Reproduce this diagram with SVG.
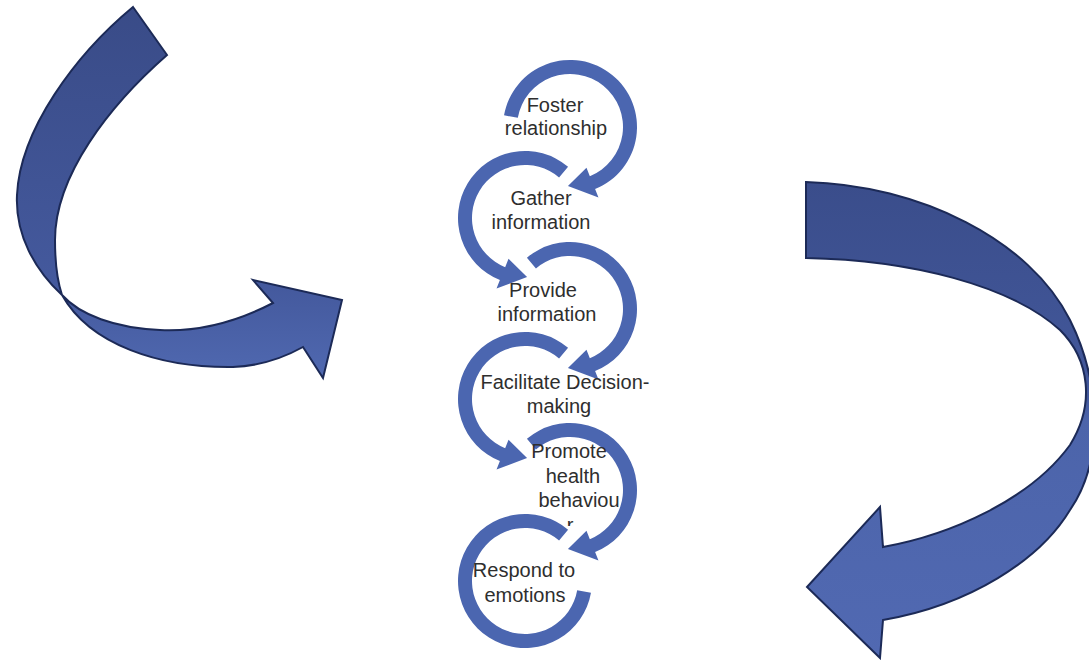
<svg xmlns="http://www.w3.org/2000/svg" width="1089" height="660" viewBox="0 0 1089 660">
<defs>
<style>
.ring{fill:#4b66b0}
.lbl{font-family:"Liberation Sans",Arial,sans-serif;font-size:20px;fill:#2e2e2e;text-anchor:middle}
.big{stroke:#1c2a57;stroke-width:2;stroke-linejoin:miter}
</style>
<linearGradient id="gl" gradientUnits="userSpaceOnUse" x1="0" y1="0" x2="0" y2="380">
<stop offset="0" stop-color="#394b87"/><stop offset="0.75" stop-color="#44599d"/><stop offset="1" stop-color="#5069b1"/>
</linearGradient>
<linearGradient id="gr" gradientUnits="userSpaceOnUse" x1="0" y1="180" x2="0" y2="660">
<stop offset="0" stop-color="#3a4d8b"/><stop offset="0.45" stop-color="#43589b"/><stop offset="0.5" stop-color="#4c64aa"/><stop offset="1" stop-color="#5169b2"/>
</linearGradient>
<path id="ringA1" d="M-65.98,-11.63 A67,67 0 1 1 25.10,62.12 L28.47,70.47 L-2.06,58.96 L16.48,40.80 L19.85,49.14 A53,53 0 1 0 -52.19,-9.20 Z"/>
<path id="ringA" d="M-43.07,-51.32 A67,67 0 1 1 25.10,62.12 L28.47,70.47 L-2.06,58.96 L16.48,40.80 L19.85,49.14 A53,53 0 1 0 -34.07,-40.60 Z"/>
<path id="ringB" d="M43.07,-51.32 A67,67 0 1 0 -25.10,62.12 L-28.47,70.47 L2.06,58.96 L-16.48,40.80 L-19.85,49.14 A53,53 0 1 1 34.07,-40.60 Z"/>
<path id="ringEnd" d="M43.07,-51.32 A67,67 0 1 0 65.98,11.63 L52.19,9.20 A53,53 0 1 1 34.07,-40.60 Z"/>
<clipPath id="clipR"><rect x="540" y="400" width="100" height="126"/></clipPath>
</defs>
<rect width="1089" height="660" fill="#ffffff"/>

<g id="connectors">
<g id="arrow-left">
<path class="big" fill="url(#gl)" d="M62,295 C90,345 160,368 233,367 C260,366 285,357 303,347 L323,378 L342,300 L253,280 L273,303 C240,320 200,332 160,330 C115,328 80,315 62,295 Z"/>
<path class="big" fill="url(#gl)" d="M133,7 L167,55 C110,105 55,175 55,240 C55,265 58,283 62,295 C35,270 15,235 17,195 C20,130 75,55 133,7 Z"/>
</g>
<g id="arrow-right">
<path class="big" fill="url(#gr)" d="M806,182 C920,185 1030,240 1070,320 C1100,380 1105,460 1070,510 C1040,560 970,605 883,620 L880,658 L807,587 L880,507 L883,547 C950,535 1030,500 1070,445 C1095,405 1090,360 1060,330 C1010,285 910,260 806,258 Z"/>
</g>
</g>

<g id="node-foster">
<use href="#ringA1" class="ring" transform="translate(570,127)"/>
<text class="lbl" x="555" y="112">Foster</text>
<text class="lbl" x="556" y="135">relationship</text>
</g>
<g id="node-gather">
<use href="#ringB" class="ring" transform="translate(525,218)"/>
<text class="lbl" x="541" y="205">Gather</text>
<text class="lbl" x="541" y="229">information</text>
</g>
<g id="node-provide">
<use href="#ringA" class="ring" transform="translate(570,309)"/>
<text class="lbl" x="543" y="297">Provide</text>
<text class="lbl" x="547" y="321">information</text>
</g>
<g id="node-facilitate">
<use href="#ringB" class="ring" transform="translate(525,399)"/>
<text class="lbl" x="565" y="389">Facilitate Decision-</text>
<text class="lbl" x="559" y="413">making</text>
</g>
<g id="node-promote">
<use href="#ringA" class="ring" transform="translate(570,490)"/>
<text class="lbl" x="569" y="458">Promote</text>
<text class="lbl" x="573" y="483">health</text>
<text class="lbl" x="579" y="507">behaviou</text>
<text class="lbl" x="570" y="532" clip-path="url(#clipR)">r</text>
</g>
<g id="node-respond">
<use href="#ringEnd" class="ring" transform="translate(525,581)"/>
<text class="lbl" x="524" y="577">Respond to</text>
<text class="lbl" x="525" y="602">emotions</text>
</g>
</svg>
